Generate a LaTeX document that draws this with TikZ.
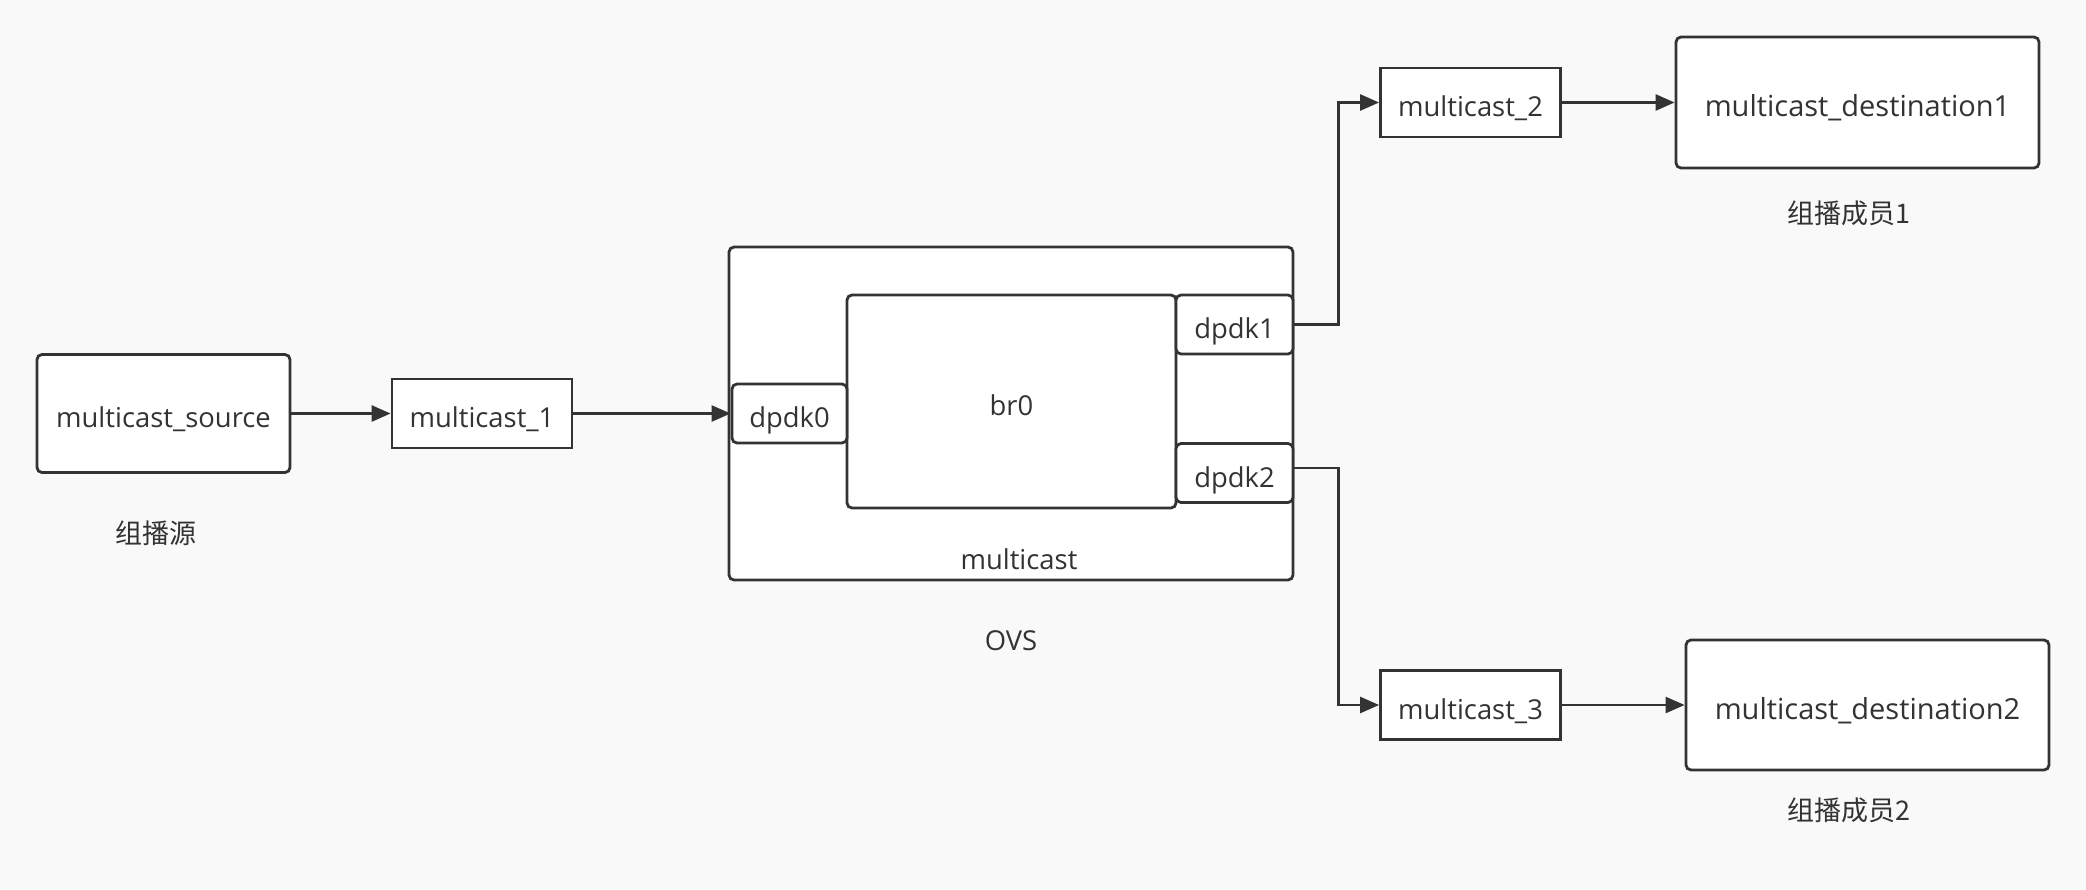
\documentclass[tikz,border=0pt]{standalone}
\usepackage{fontspec}
\setmainfont{Open Sans}
\newfontfamily\cjk{Noto Sans CJK SC}
\usetikzlibrary{arrows.meta}
\definecolor{inkgray}{HTML}{333333}
\definecolor{pagegray}{HTML}{F9F9F9}

\begin{document}
\begin{tikzpicture}[x=0.5pt,y=-0.5pt,line width=1.3pt]
\tikzstyle{every node}=[text=inkgray,inner sep=0pt,font=\fontsize{13.7}{16}\selectfont];
\tikzstyle{boxtext}=[text height=14.5pt,text depth=0.5pt];
\tikzstyle{hostbox}=[boxtext,draw=inkgray,fill=white,rounded corners=2.5pt,line width=1.4pt];
\tikzstyle{vethbox}=[boxtext,draw=inkgray,fill=white,line width=1.4pt,minimum width=90pt,minimum height=34.5pt];
\tikzstyle{portbox}=[boxtext,draw=inkgray,fill=white,rounded corners=2.5pt,line width=1.4pt,minimum height=29.5pt];
\tikzstyle{caption}=[font=\cjk\fontsize{13.5}{16}\selectfont];
\tikzstyle{flow}=[draw=inkgray,line width=1.3pt,-{Triangle[length=9.5pt,width=8pt]}];
\fill[pagegray] (0,0) rectangle (2086,889);
\useasboundingbox (0,0) rectangle (2086,889);
% source side
\node[hostbox,minimum width=126.5pt,minimum height=59pt] (src) at (163.5,413.5) {multicast\_source};
\node[caption] (srclabel) at (156,533) {组播源};
\node[vethbox] (veth1) at (482,413.5) {multicast\_1};
% ovs bridge
\node[hostbox,minimum width=282pt,minimum height=166.5pt] (ovs) at (1011,413.5) {};
\node (ovslabel) at (1019,559) {multicast};
\node[hostbox,minimum width=164.5pt,minimum height=106.5pt] (br0) at (1011.5,401.5) {br0};
\node[portbox,minimum width=57.5pt] (dpdk0) at (789.5,413.5) {dpdk0};
\node[portbox,minimum width=58.5pt] (dpdk1) at (1234.5,324.5) {dpdk1};
\node[portbox,minimum width=58.5pt] (dpdk2) at (1234.5,473) {dpdk2};
\node (ovsname) at (1011,641) {OVS};
% members
\node[vethbox] (veth2) at (1470.5,102.5) {multicast\_2};
\node[hostbox,minimum width=181.5pt,minimum height=65.5pt,font=\fontsize{14.5}{17}\selectfont] (dst1) at (1857.5,102.5) {multicast\_destination1};
\node[caption] (dst1label) at (1849,213) {组播成员1};
\node[vethbox] (veth3) at (1470.5,705) {multicast\_3};
\node[hostbox,minimum width=181.5pt,minimum height=65pt,font=\fontsize{14.5}{17}\selectfont] (dst2) at (1867.5,705) {multicast\_destination2};
\node[caption] (dst2label) at (1849,810) {组播成员2};
% connectors
\draw[flow] (src) -- (veth1);
\draw[flow] (veth1) -- (dpdk0);
\draw[flow] (dpdk1.east) -- ++(22pt,0) |- (veth2.west);
\draw[flow] ([yshift=2.5pt]dpdk2.east) -- ++(22pt,0) |- (veth3.west);
\draw[flow] (veth2) -- (dst1);
\draw[flow] (veth3) -- (dst2);
\end{tikzpicture}
\end{document}
